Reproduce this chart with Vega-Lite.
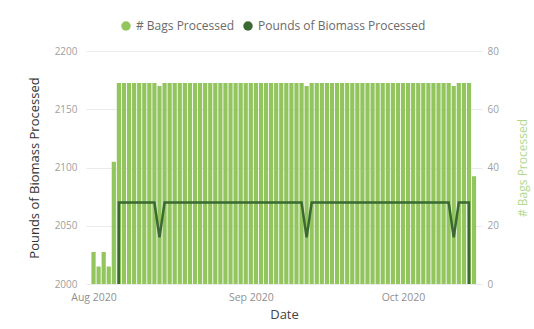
{
  "$schema": "https://vega.github.io/schema/vega-lite/v6.json",
  "width": 396,
  "height": 233,
  "autosize": {"type": "none"},
  "padding": {"left": 86, "top": 51, "right": 52, "bottom": 45},
  "background": "#ffffff",
  "config": {
    "font": "Open Sans",
    "view": {"stroke": null},
    "axis": {
      "domain": false,
      "ticks": false,
      "labelColor": "#a0a0a0",
      "labelFontSize": 10,
      "gridColor": "#ebebeb",
      "gridWidth": 1,
      "titleFontWeight": "normal",
      "titleFontSize": 13
    }
  },
  "data": {
    "values": [
      {"date": "2020-08-01", "bags": 11, "pounds": 0},
      {"date": "2020-08-02", "bags": 6, "pounds": 0},
      {"date": "2020-08-03", "bags": 11, "pounds": 0},
      {"date": "2020-08-04", "bags": 6, "pounds": 0},
      {"date": "2020-08-05", "bags": 42, "pounds": 0},
      {"date": "2020-08-06", "bags": 69, "pounds": 2070},
      {"date": "2020-08-07", "bags": 69, "pounds": 2070},
      {"date": "2020-08-08", "bags": 69, "pounds": 2070},
      {"date": "2020-08-09", "bags": 69, "pounds": 2070},
      {"date": "2020-08-10", "bags": 69, "pounds": 2070},
      {"date": "2020-08-11", "bags": 69, "pounds": 2070},
      {"date": "2020-08-12", "bags": 69, "pounds": 2070},
      {"date": "2020-08-13", "bags": 69, "pounds": 2070},
      {"date": "2020-08-14", "bags": 68, "pounds": 2040},
      {"date": "2020-08-15", "bags": 69, "pounds": 2070},
      {"date": "2020-08-16", "bags": 69, "pounds": 2070},
      {"date": "2020-08-17", "bags": 69, "pounds": 2070},
      {"date": "2020-08-18", "bags": 69, "pounds": 2070},
      {"date": "2020-08-19", "bags": 69, "pounds": 2070},
      {"date": "2020-08-20", "bags": 69, "pounds": 2070},
      {"date": "2020-08-21", "bags": 69, "pounds": 2070},
      {"date": "2020-08-22", "bags": 69, "pounds": 2070},
      {"date": "2020-08-23", "bags": 69, "pounds": 2070},
      {"date": "2020-08-24", "bags": 69, "pounds": 2070},
      {"date": "2020-08-25", "bags": 69, "pounds": 2070},
      {"date": "2020-08-26", "bags": 69, "pounds": 2070},
      {"date": "2020-08-27", "bags": 69, "pounds": 2070},
      {"date": "2020-08-28", "bags": 69, "pounds": 2070},
      {"date": "2020-08-29", "bags": 69, "pounds": 2070},
      {"date": "2020-08-30", "bags": 69, "pounds": 2070},
      {"date": "2020-08-31", "bags": 69, "pounds": 2070},
      {"date": "2020-09-01", "bags": 69, "pounds": 2070},
      {"date": "2020-09-02", "bags": 69, "pounds": 2070},
      {"date": "2020-09-03", "bags": 69, "pounds": 2070},
      {"date": "2020-09-04", "bags": 69, "pounds": 2070},
      {"date": "2020-09-05", "bags": 69, "pounds": 2070},
      {"date": "2020-09-06", "bags": 69, "pounds": 2070},
      {"date": "2020-09-07", "bags": 69, "pounds": 2070},
      {"date": "2020-09-08", "bags": 69, "pounds": 2070},
      {"date": "2020-09-09", "bags": 69, "pounds": 2070},
      {"date": "2020-09-10", "bags": 69, "pounds": 2070},
      {"date": "2020-09-11", "bags": 69, "pounds": 2070},
      {"date": "2020-09-12", "bags": 68, "pounds": 2040},
      {"date": "2020-09-13", "bags": 69, "pounds": 2070},
      {"date": "2020-09-14", "bags": 69, "pounds": 2070},
      {"date": "2020-09-15", "bags": 69, "pounds": 2070},
      {"date": "2020-09-16", "bags": 69, "pounds": 2070},
      {"date": "2020-09-17", "bags": 69, "pounds": 2070},
      {"date": "2020-09-18", "bags": 69, "pounds": 2070},
      {"date": "2020-09-19", "bags": 69, "pounds": 2070},
      {"date": "2020-09-20", "bags": 69, "pounds": 2070},
      {"date": "2020-09-21", "bags": 69, "pounds": 2070},
      {"date": "2020-09-22", "bags": 69, "pounds": 2070},
      {"date": "2020-09-23", "bags": 69, "pounds": 2070},
      {"date": "2020-09-24", "bags": 69, "pounds": 2070},
      {"date": "2020-09-25", "bags": 69, "pounds": 2070},
      {"date": "2020-09-26", "bags": 69, "pounds": 2070},
      {"date": "2020-09-27", "bags": 69, "pounds": 2070},
      {"date": "2020-09-28", "bags": 69, "pounds": 2070},
      {"date": "2020-09-29", "bags": 69, "pounds": 2070},
      {"date": "2020-09-30", "bags": 69, "pounds": 2070},
      {"date": "2020-10-01", "bags": 69, "pounds": 2070},
      {"date": "2020-10-02", "bags": 69, "pounds": 2070},
      {"date": "2020-10-03", "bags": 69, "pounds": 2070},
      {"date": "2020-10-04", "bags": 69, "pounds": 2070},
      {"date": "2020-10-05", "bags": 69, "pounds": 2070},
      {"date": "2020-10-06", "bags": 69, "pounds": 2070},
      {"date": "2020-10-07", "bags": 69, "pounds": 2070},
      {"date": "2020-10-08", "bags": 69, "pounds": 2070},
      {"date": "2020-10-09", "bags": 69, "pounds": 2070},
      {"date": "2020-10-10", "bags": 69, "pounds": 2070},
      {"date": "2020-10-11", "bags": 68, "pounds": 2040},
      {"date": "2020-10-12", "bags": 69, "pounds": 2070},
      {"date": "2020-10-13", "bags": 69, "pounds": 2070},
      {"date": "2020-10-14", "bags": 69, "pounds": 2070},
      {"date": "2020-10-15", "bags": 37, "pounds": 0}
    ]
  },
  "encoding": {
    "x": {
      "field": "date",
      "type": "temporal",
      "title": "Date",
      "scale": {
        "type": "utc",
        "domain": [
          {"year": 2020, "month": 7, "date": 31, "hours": 12, "utc": true},
          {"year": 2020, "month": 10, "date": 15, "hours": 14, "utc": true}
        ]
      },
      "axis": {
        "format": "%b %Y",
        "tickCount": {"interval": "month", "step": 1},
        "grid": false,
        "labelFlush": false,
        "labelPadding": 8,
        "labelFontSize": 10.5,
        "labelColor": "#909090",
        "titleColor": "#444444",
        "titlePadding": 6
      }
    }
  },
  "layer": [
    {
      "mark": {"type": "bar", "size": 4.2},
      "encoding": {
        "y": {
          "field": "bags",
          "type": "quantitative",
          "title": "# Bags Processed",
          "scale": {"domain": [0, 80]},
          "axis": {
            "orient": "right",
            "values": [0, 20, 40, 60, 80],
            "grid": false,
            "labelPadding": 5,
            "titleColor": "#b3d98d",
            "titleFontSize": 12,
            "titleAngle": 270,
            "titlePadding": 31
          }
        },
        "color": {
          "datum": "# Bags Processed",
          "scale": {
            "domain": ["# Bags Processed", "Pounds of Biomass Processed"],
            "range": ["#93c55f", "#3a6a31"]
          },
          "legend": {
            "title": null,
            "orient": "none",
            "direction": "horizontal",
            "legendX": 34,
            "legendY": -31,
            "symbolType": "circle",
            "symbolSize": 90,
            "symbolStrokeWidth": 0,
            "labelFontSize": 12,
            "labelLimit": 400,
            "labelColor": "#6a6a6a",
            "columnPadding": 8,
            "labelOffset": 4
          }
        }
      }
    },
    {
      "mark": {"type": "line", "strokeWidth": 2.5, "clip": true, "interpolate": "linear"},
      "encoding": {
        "y": {
          "field": "pounds",
          "type": "quantitative",
          "title": "Pounds of Biomass Processed",
          "scale": {"domain": [2000, 2200], "zero": false},
          "axis": {
            "orient": "left",
            "values": [2000, 2050, 2100, 2150, 2200],
            "format": "d",
            "grid": true,
            "labelPadding": 9,
            "titleColor": "#333333",
            "titlePadding": 13
          }
        },
        "color": {"datum": "Pounds of Biomass Processed"}
      }
    }
  ],
  "resolve": {"scale": {"y": "independent"}}
}
